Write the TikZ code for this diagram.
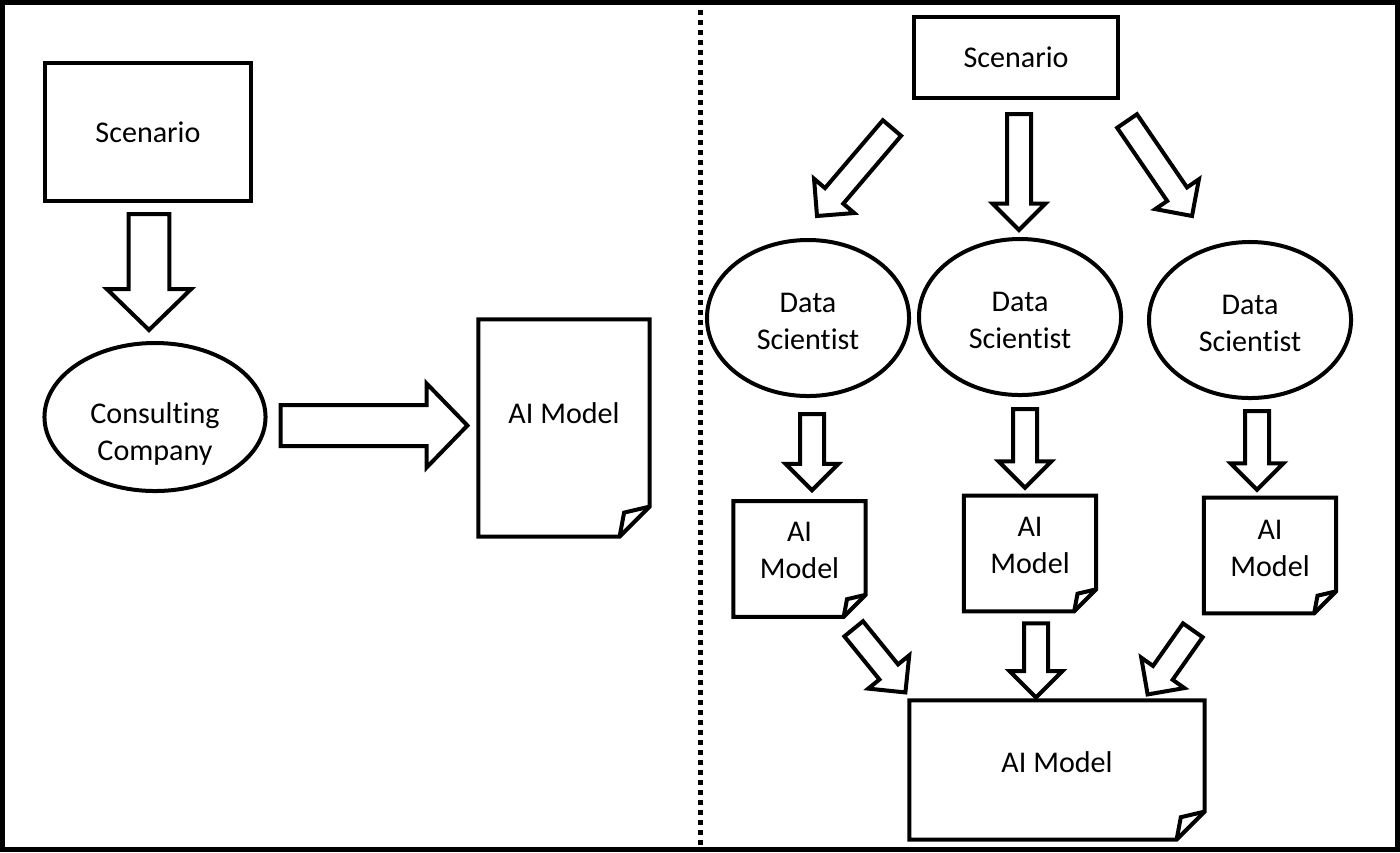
\documentclass[tikz,border=0pt]{standalone}
\usepackage{fontspec}
\setmainfont{Carlito}[Ligatures=NoCommon]
\usetikzlibrary{calc,shapes.geometric}
\definecolor{ink}{HTML}{000000}

% hollow block arrow: shaft half width, head half width, head length, start, tip
\newcommand{\blockarrow}[5]{%
  \coordinate (ba-s) at #4;
  \coordinate (ba-t) at #5;
  \coordinate (ba-h) at ($(ba-t)!#3!(ba-s)$);
  \draw[blockline] ($(ba-s)!#1!90:(ba-t)$) -- ($(ba-h)!#1!90:(ba-t)$) -- ($(ba-h)!#2!90:(ba-t)$) -- (ba-t)
    -- ($(ba-h)!#2!-90:(ba-t)$) -- ($(ba-h)!#1!-90:(ba-t)$) -- ($(ba-s)!#1!-90:(ba-t)$) -- cycle;}
\newcommand{\bigarrow}[2]{\blockarrow{0.256cm}{0.525cm}{0.51cm}{#1}{#2}}
\newcommand{\smallarrow}[2]{\blockarrow{0.15cm}{0.33cm}{0.33cm}{#1}{#2}}
% page with a folded corner, drawn round a node
\newcommand{\docoutline}[2]{%
  \draw[docline] (#1.north west) -- (#1.north east) -- ($(#1.south east)+(0,-#2)$) -- ($(#1.south east)+(-#2,0)$) -- (#1.south west) -- cycle;
  \draw[docline] ($(#1.south east)+(-#2,0)$) -- ($(#1.south east)+(-0.85*#2,-0.8*#2)$) -- ($(#1.south east)+(0,-#2)$);}

\begin{document}
\begin{tikzpicture}[x=0.0125cm,y=-0.0125cm,ink,
  every node/.style={font=\fontsize{10.7}{13.1}\selectfont,align=center},
  box/.style={draw,line width=0.05cm,inner sep=0pt},
  bubble/.style={ellipse,draw,line width=0.05cm,inner sep=0pt,minimum width=2.525cm,minimum height=1.95cm},
  doc/.style={inner sep=0pt},
  smalldoc/.style={doc,minimum width=1.64cm,minimum height=1.43cm},
  blockline/.style={line width=0.05cm,fill=white,line join=miter},
  docline/.style={line width=0.05cm,line join=miter}]
\useasboundingbox (0,0) rectangle (1400,852);
\draw[line width=0.0625cm] (2.5,2.5) rectangle (1397.5,849.5);
\draw[line width=0.0625cm,dash pattern=on 0.0625cm off 0.0625cm] (700.5,0) -- (700.5,852);

% left: one company
\node[box,minimum width=2.575cm,minimum height=1.725cm] (scenLeft) at (148,132) {Scenario};
\node[bubble,minimum width=2.7625cm,minimum height=1.85cm,label={[yshift=-0.21cm]center:Consulting\\Company}] (firm) at (155,417) {};
\node[doc,minimum width=2.125cm,minimum height=2.7cm,label={[yshift=0.19cm]center:AI Model}] (modelLeft) at (564,428) {};
\docoutline{modelLeft}{30}
\bigarrow{($(scenLeft.south)+(1,11)$)}{($(firm.north)+(-6,-11)$)}
\bigarrow{($(firm.east)+(13,8.5)$)}{($(modelLeft.west)+(-11,-2.5)$)}

% right: many data scientists
\node[box,minimum width=2.55cm,minimum height=1.0125cm] (scenRight) at (1016,57.5) {Scenario};
\node[bubble,label={[yshift=-0.04cm]center:Data\\Scientist}] (sci1) at (808,318) {};
\node[bubble,label={[yshift=-0.04cm]center:Data\\Scientist}] (sci2) at (1020,317) {};
\node[bubble,label={[yshift=-0.04cm]center:Data\\Scientist}] (sci3) at (1250,320) {};
\node[smalldoc,label={[yshift=0.11cm]center:AI\\Model}] (model1) at (799.5,559) {};
\node[smalldoc,label={[yshift=0.1cm]center:AI\\Model}] (model2) at (1030,553.5) {};
\node[smalldoc,label={[yshift=0.09cm]center:AI\\Model}] (model3) at (1270,555.5) {};
\node[doc,minimum width=3.675cm,minimum height=1.725cm,label={[yshift=0.1cm]center:AI Model}] (modelAll) at (1057,770) {};
\docoutline{model1}{22}
\docoutline{model2}{22}
\docoutline{model3}{22}
\docoutline{modelAll}{28}

\smallarrow{($(scenRight.south west)+(-20,28)$)}{($(sci1.north)+(9,-22)$)}
\smallarrow{($(scenRight.south)+(3,14)$)}{($(sci2.north)+(-1,-7)$)}
\smallarrow{($(scenRight.south east)+(7,21)$)}{($(sci3.north)+(-58,-24)$)}
\smallarrow{($(sci1.south)+(4,16)$)}{($(model1.north)+(12.5,-11)$)}
\smallarrow{($(sci2.south)+(5,12)$)}{($(model2.north)+(-5,-8)$)}
\smallarrow{($(sci3.south)+(7,11)$)}{($(model3.north)+(-13,-8)$)}
\smallarrow{($(model1.south east)+(-12,12)$)}{($(modelAll.north west)+(-4,-8)$)}
\smallarrow{($(model2.south)+(6,12)$)}{($(modelAll.north)+(-21,-3)$)}
\smallarrow{($(model3.south west)+(-11,17)$)}{($(modelAll.north east)+(-57,-6)$)}
\end{tikzpicture}
\end{document}
